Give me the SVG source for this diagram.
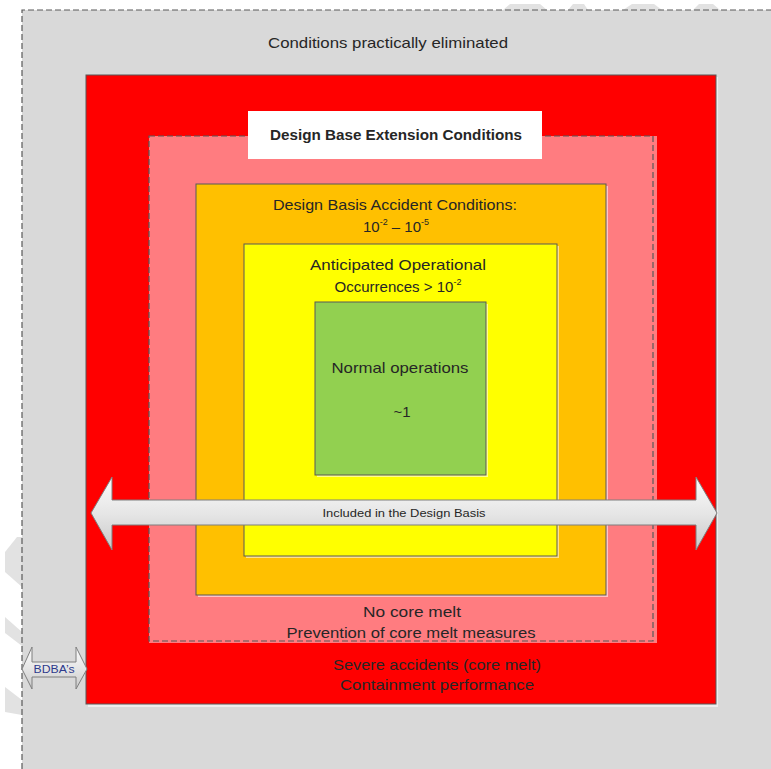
<svg xmlns="http://www.w3.org/2000/svg" width="771" height="769" viewBox="0 0 771 769">
  <style>
    .t { font-family: "Liberation Sans", Arial, sans-serif; font-size: 15px; fill: #262626; text-anchor: middle; }
    .b { font-weight: bold; }
    .s { font-size: 11px; }
    .box { stroke: #595959; stroke-width: 1; }
    .shadow { fill: #ffffff; opacity: 0.55; }
    .dash { fill: none; stroke: #595959; stroke-width: 1.2; stroke-dasharray: 6 3; }
    .wm { fill: #e2e2e2; }
  </style>
  <defs>
    <linearGradient id="arrowFill" x1="0" y1="0" x2="0" y2="1">
      <stop offset="0" stop-color="#fbfbfb"/>
      <stop offset="0.5" stop-color="#e6e6e6"/>
      <stop offset="1" stop-color="#c9c9c9"/>
    </linearGradient>
  </defs>
  <rect x="0" y="0" width="771" height="769" fill="#ffffff"/>

  <g id="watermark">
    <polygon class="wm" points="503,10 510,4 540,4 547,10"/>
    <polygon class="wm" points="568,10 573,4 584,4 588,10"/>
    <polygon class="wm" points="623,10 632,4 654,4 662,10"/>
    <polygon class="wm" points="693,10 699,4 713,4 720,10"/>
    <polygon class="wm" points="5,552 17,537 22,537 22,587 5,572"/>
    <polygon class="wm" points="5,617 22,632 22,646 5,633"/>
    <polygon class="wm" points="5,687 22,700 22,715 5,712"/>
  </g>

  <g id="practically-eliminated">
    <rect x="22" y="10" width="749" height="759" fill="#d9d9d9"/>
    <path class="dash" d="M22,769 L22,10 L771,10"/>
    <text class="t" x="388" y="48" textLength="240" lengthAdjust="spacingAndGlyphs">Conditions practically eliminated</text>
  </g>

  <g id="severe-accidents">
    <rect class="shadow" x="88" y="77" width="630" height="630"/>
    <rect class="box" x="86" y="75" width="630" height="629" fill="#ff0000"/>
    <text class="t" x="437" y="670" textLength="208" lengthAdjust="spacingAndGlyphs">Severe accidents (core melt)</text>
    <text class="t" x="437" y="690" textLength="194" lengthAdjust="spacingAndGlyphs">Containment performance</text>
  </g>

  <g id="no-core-melt">
    <rect x="149" y="136" width="508" height="507" fill="#ff7c80"/>
    <rect class="dash" x="149" y="136" width="504" height="505"/>
    <text class="t" x="412" y="617" textLength="98" lengthAdjust="spacingAndGlyphs">No core melt</text>
    <text class="t" x="411" y="638" textLength="249" lengthAdjust="spacingAndGlyphs">Prevention of core melt measures</text>
  </g>

  <g id="design-extension-label">
    <rect x="248" y="111" width="294" height="48" fill="#ffffff"/>
    <text class="t b" x="396" y="140" textLength="252" lengthAdjust="spacingAndGlyphs">Design Base Extension Conditions</text>
  </g>

  <g id="design-basis-accidents">
    <rect class="shadow" x="198" y="186" width="410" height="411"/>
    <rect class="box" x="196" y="184" width="410" height="411" fill="#ffc000"/>
    <text class="t" x="395" y="210" textLength="244" lengthAdjust="spacingAndGlyphs">Design Basis Accident Conditions:</text>
    <text class="t" x="396" y="232">10<tspan font-size="9" dy="-7">-2</tspan><tspan dy="7"> – 10</tspan><tspan font-size="9" dy="-7">-5</tspan></text>
  </g>

  <g id="anticipated-occurrences">
    <rect class="shadow" x="246" y="246" width="313" height="312"/>
    <rect class="box" x="244" y="244" width="313" height="312" fill="#ffff00"/>
    <text class="t" x="398" y="270" textLength="176" lengthAdjust="spacingAndGlyphs">Anticipated Operational</text>
    <text class="t" x="398" y="292">Occurrences &gt; 10<tspan font-size="9" dy="-7">-2</tspan></text>
  </g>

  <g id="normal-operations">
    <rect class="shadow" x="317" y="304" width="171" height="173"/>
    <rect class="box" x="315" y="302" width="171" height="173" fill="#92d050"/>
    <text class="t" x="400" y="373" textLength="137" lengthAdjust="spacingAndGlyphs">Normal operations</text>
    <text class="t" x="402" y="417">~1</text>
  </g>

  <g id="connectors">
    <g id="design-basis-arrow">
      <path d="M91,513 L112,477 L112,500 L696,500 L696,477 L717,513 L696,550 L696,525 L112,525 L112,550 Z" fill="url(#arrowFill)" stroke="#7f7f7f" stroke-width="1"/>
      <text class="t s" x="404" y="517" textLength="163" lengthAdjust="spacingAndGlyphs">Included in the Design Basis</text>
    </g>
    <g id="bdba-arrow">
      <path d="M22,669 L32,647 L32,662 L76,662 L76,647 L87,669 L76,689 L76,677 L32,677 L32,689 Z" fill="url(#arrowFill)" stroke="#7f7f7f" stroke-width="1"/>
      <text class="t s" x="54" y="673" fill="#2e3a8c" style="fill:#2e3a8c" textLength="41" lengthAdjust="spacingAndGlyphs">BDBA’s</text>
    </g>
  </g>
</svg>
